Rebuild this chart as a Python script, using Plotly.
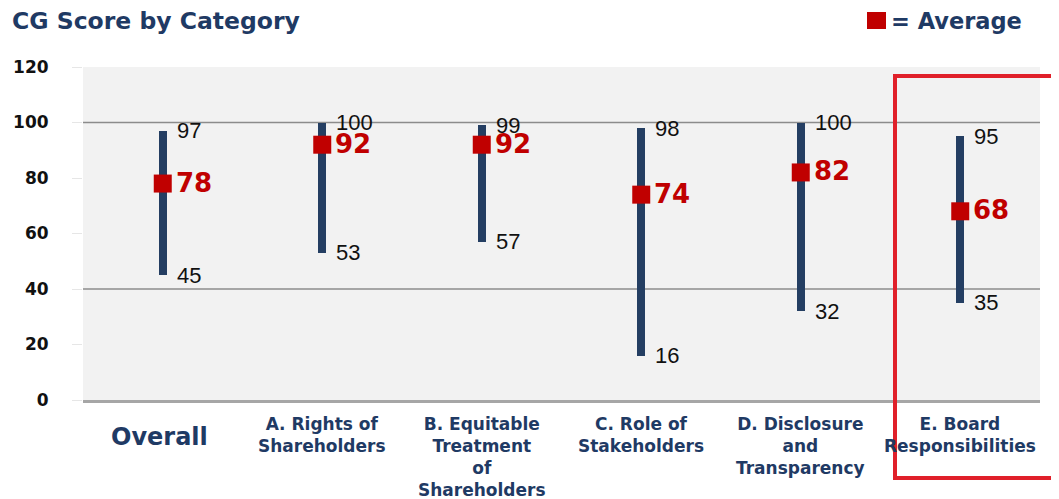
import plotly.graph_objects as go

# ---- data ----
category_ids = ["Overall", "A", "B", "C", "D", "E"]
category_labels = [
    "Overall",
    "A. Rights of<br>Shareholders",
    "B. Equitable<br>Treatment<br>of<br>Shareholders",
    "C. Role of<br>Stakeholders",
    "D. Disclosure<br>and<br>Transparency",
    "E. Board<br>Responsibilities",
]
max_scores = [97, 100, 99, 98, 100, 95]
min_scores = [45, 53, 57, 16, 32, 35]
avg_scores = [78, 92, 92, 74, 82, 68]
y_ticks = [0, 20, 40, 60, 80, 100, 120]
grid_levels = [100, 40]

NAVY = "#243E62"
RED = "#C00000"
TITLE_NAVY = "#1F3A64"

# page body has an 8px default margin; figure sized to fill the rest
W, H = 1051, 491
PLOT_L, PLOT_T, PLOT_W, PLOT_H = 75, 59, 957, 333

fig = go.Figure()

fig.add_trace(go.Bar(
    x=category_ids,
    y=[mx - mn for mx, mn in zip(max_scores, min_scores)],
    base=min_scores,
    width=0.05,
    marker=dict(color=NAVY, line=dict(width=0)),
    showlegend=False,
    hoverinfo="skip",
))

fig.add_trace(go.Scatter(
    x=category_ids,
    y=avg_scores,
    mode="markers",
    marker=dict(symbol="square", size=18, color=RED, line=dict(width=0)),
    name="Average",
    showlegend=False,
))

annotations = []
for cid, mx, mn, av in zip(category_ids, max_scores, min_scores, avg_scores):
    for val in (mx, mn):
        annotations.append(dict(
            x=cid, y=val, xref="x", yref="y", text=str(val), showarrow=False,
            xanchor="left", yanchor="middle", xshift=12,
            font=dict(family="Liberation Sans", size=22, color="#111111"),
        ))
    annotations.append(dict(
        x=cid, y=av, xref="x", yref="y", text=str(av), showarrow=False,
        xanchor="left", yanchor="middle", xshift=11, yshift=1,
        font=dict(family="DejaVu Sans", size=26, color=RED, weight="bold"),
    ))

for i, (cid, lab) in enumerate(zip(category_ids, category_labels)):
    if i == 0:
        annotations.append(dict(
            x=cid, y=0, xref="x", yref="y", text=lab, showarrow=False,
            xanchor="center", yanchor="middle", yshift=-37, xshift=-3,
            font=dict(family="DejaVu Sans", size=24, color=TITLE_NAVY, weight="bold"),
        ))
    else:
        annotations.append(dict(
            x=cid, y=0, xref="x", yref="y", text=lab, showarrow=False,
            xanchor="center", yanchor="top", yshift=-13, borderpad=0,
            font=dict(family="DejaVu Sans", size=17, color=TITLE_NAVY, weight="bold"),
        ))

# legend key in the top-right corner (red square + text)
annotations.append(dict(
    x=(1024 - 83) / PLOT_W, xref="paper", y=(400 - 21) / PLOT_H, yref="paper",
    text="= Average", showarrow=False, xanchor="right", yanchor="middle",
    font=dict(family="DejaVu Sans", size=22.5, color=TITLE_NAVY, weight="bold"),
))

shapes = []
for g in grid_levels:
    shapes.append(dict(type="line", xref="paper", x0=0, x1=1, yref="y", y0=g, y1=g,
                       line=dict(color="#8C8C8C", width=1.5), layer="below"))
# legend square
shapes.append(dict(type="rect", xref="paper", yref="paper",
                   x0=(867 - 83) / PLOT_W, x1=(886 - 83) / PLOT_W,
                   y0=(400 - 29) / PLOT_H, y1=(400 - 12) / PLOT_H,
                   line=dict(width=0), fillcolor=RED))
# highlight box around E category
shapes.append(dict(type="rect", xref="paper", yref="paper",
                   x0=(895 - 83) / PLOT_W, x1=1.03, y0=(400 - 478) / PLOT_H, y1=(400 - 76) / PLOT_H,
                   line=dict(color="#E0202A", width=4), fillcolor="rgba(0,0,0,0)"))

fig.update_layout(
    width=W, height=H,
    margin=dict(l=PLOT_L, r=W - PLOT_L - PLOT_W, t=PLOT_T, b=H - PLOT_T - PLOT_H, autoexpand=False),
    paper_bgcolor="white",
    plot_bgcolor="#F2F2F2",
    title=dict(
        text="CG Score by Category",
        x=4 / W, xref="container", xanchor="left",
        y=1 - 13 / H, yref="container", yanchor="middle",
        font=dict(family="DejaVu Sans", size=23.5, color=TITLE_NAVY, weight="bold"),
    ),
    showlegend=False,
    annotations=annotations,
    shapes=shapes,
    bargap=0,
)

fig.update_xaxes(
    type="category", categoryorder="array", categoryarray=category_ids,
    range=[-0.5, len(category_ids) - 0.5],
    showticklabels=False, showgrid=False, zeroline=False,
    showline=True, linecolor="#A6A6A6", linewidth=3,
    ticks="", automargin=False,
)
fig.update_yaxes(
    range=[0, 120], tickvals=y_ticks, ticktext=[str(t) for t in y_ticks],
    showgrid=False, zeroline=False, showline=False,
    ticks="outside", ticklen=10, tickcolor="#E6E6E6", tickwidth=1,
    ticklabelstandoff=20, automargin=False,
    tickfont=dict(family="DejaVu Sans", size=17, color="#111111", weight="bold"),
)

fig.write_html("out.html")
